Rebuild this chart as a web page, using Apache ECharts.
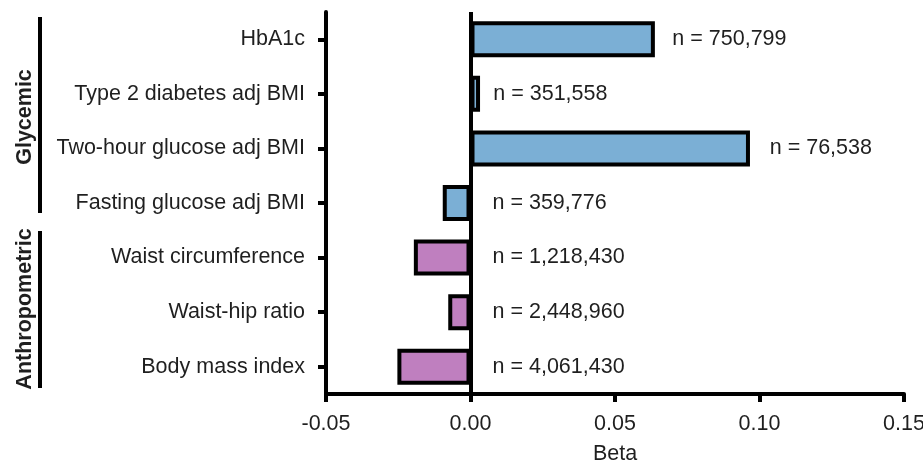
<!DOCTYPE html>
<html>
<head>
<meta charset="utf-8">
<script src="https://cdn.jsdelivr.net/npm/echarts@6/dist/echarts.min.js"></script>
<style>
html,body{margin:0;padding:0;background:#fff;}
#chart{width:923px;height:461px;}
</style>
</head>
<body>
<div id="chart"></div>
<script>
// ---- data ----
const categories = [
  'HbA1c',
  'Type 2 diabetes adj BMI',
  'Two-hour glucose adj BMI',
  'Fasting glucose adj BMI',
  'Waist circumference',
  'Waist-hip ratio',
  'Body mass index'
];
const betaValues = [0.0638, 0.0033, 0.0967, -0.0096, -0.0196, -0.0077, -0.0253];
const sampleSizes = [750799, 351558, 76538, 359776, 1218430, 2448960, 4061430];
const groups = ['Glycemic', 'Glycemic', 'Glycemic', 'Glycemic', 'Anthropometric', 'Anthropometric', 'Anthropometric'];
const xTicks = [-0.05, 0.00, 0.05, 0.10, 0.15];

// ---- styles ----
const FONT = "'Liberation Sans', Arial, Helvetica, sans-serif";
const TXT = '#1f1f1f';
const FS = 21.5;
const LW = 4;
const groupColors = { Glycemic: '#7bafd5', Anthropometric: '#bf7fbf' };

const chart = echarts.init(document.getElementById('chart'), null, { renderer: 'canvas' });

const seriesData = betaValues.map((v, i) => ({
  value: v,
  itemStyle: { color: groupColors[groups[i]] },
  label: { distance: v < 0 ? 22 : 13 + 70 * v }
}));

chart.setOption({
  animation: false,
  backgroundColor: '#fff',
  textStyle: { fontFamily: FONT },
  grid: { left: 326, right: 19, top: 12, bottom: 67, containLabel: false, outerBoundsMode: 'none' },
  xAxis: {
    type: 'value',
    min: xTicks[0],
    max: xTicks[xTicks.length - 1],
    interval: 0.05,
    name: 'Beta',
    nameLocation: 'middle',
    nameGap: 49,
    nameTextStyle: { fontSize: FS, color: TXT, fontFamily: FONT },
    axisLine: { show: true, onZero: false, lineStyle: { color: '#000', width: LW } },
    axisTick: { show: true, length: 8, lineStyle: { color: '#000', width: LW } },
    axisLabel: {
      fontSize: FS, color: TXT, margin: 19, fontFamily: FONT,
      formatter: v => (Math.abs(v) < 1e-9 ? 0 : v).toFixed(2)
    },
    splitLine: { show: false }
  },
  yAxis: {
    type: 'category',
    data: categories,
    inverse: true,
    axisLine: { show: true, onZero: false, lineStyle: { color: '#000', width: LW } },
    axisTick: { show: true, alignWithLabel: true, length: 8, lineStyle: { color: '#000', width: LW } },
    axisLabel: { fontSize: FS, color: TXT, margin: 21, fontFamily: FONT },
    splitLine: { show: false }
  },
  series: [{
    type: 'bar',
    data: seriesData,
    barWidth: 36,
    itemStyle: { borderColor: '#000', borderWidth: LW },
    label: {
      show: true,
      position: 'right',
      fontSize: FS,
      color: TXT,
      fontFamily: FONT,
      formatter: p => 'n = ' + sampleSizes[p.dataIndex].toLocaleString('en-US')
    },
    markLine: {
      silent: true,
      symbol: 'none',
      label: { show: false },
      lineStyle: { color: '#000', width: LW, type: 'solid' },
      data: [{ xAxis: 0 }]
    }
  }],
  graphic: [
    { type: 'line', shape: { x1: 40, y1: 17, x2: 40, y2: 213 }, style: { stroke: '#000', lineWidth: LW } },
    { type: 'line', shape: { x1: 40, y1: 231, x2: 40, y2: 388 }, style: { stroke: '#000', lineWidth: LW } },
    { type: 'text', x: 25, y: 117, rotation: Math.PI / 2,
      style: { text: 'Glycemic', font: 'bold 21.5px ' + FONT, fill: TXT, align: 'center', verticalAlign: 'middle' } },
    { type: 'text', x: 25, y: 309, rotation: Math.PI / 2,
      style: { text: 'Anthropometric', font: 'bold 21.5px ' + FONT, fill: TXT, align: 'center', verticalAlign: 'middle' } }
  ]
});
</script>
</body>
</html>
